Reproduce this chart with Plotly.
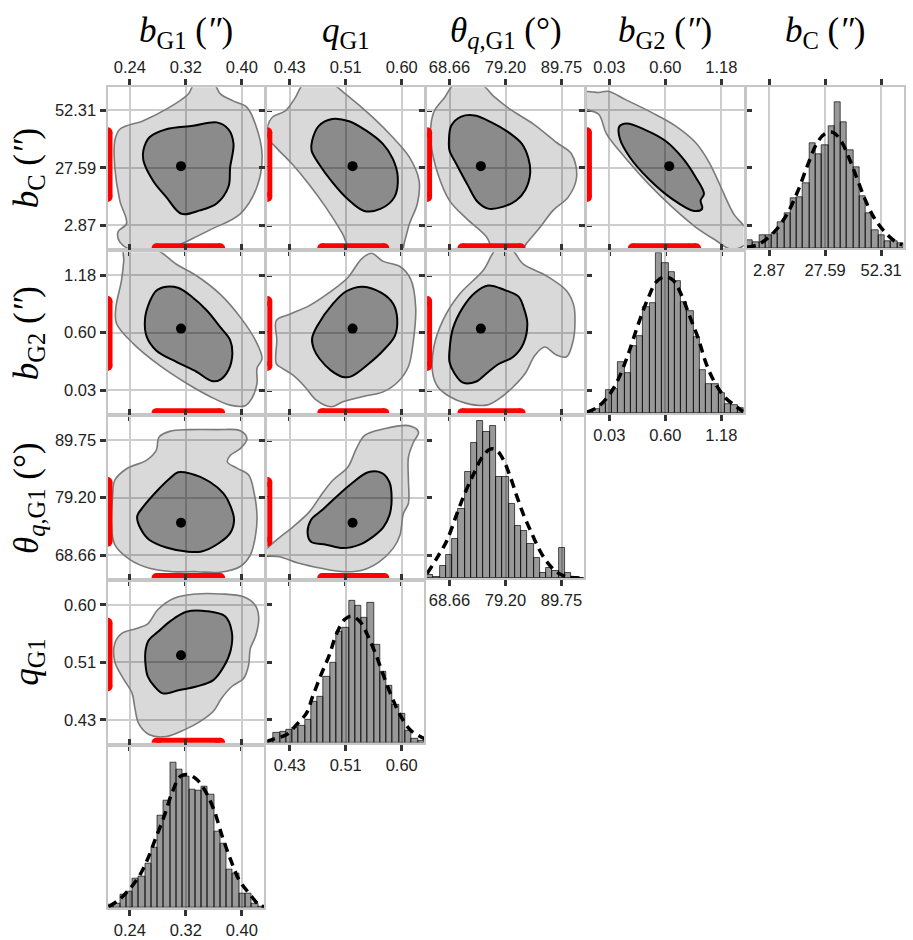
import plotly.graph_objects as go

# variables, in column order (rows run the other way: bC on top)
names = ["bG1", "qG1", "theta", "bG2", "bC"]
titles = ["<i>b</i><sub>G1</sub> (<i>″</i>)", "<i>q</i><sub>G1</sub>",
          "<i>θ</i><sub><i>q</i>,G1</sub> (°)", "<i>b</i><sub>G2</sub> (<i>″</i>)",
          "<i>b</i><sub>C</sub> (<i>″</i>)"]
tick_mid = [0.32, 0.5135, 79.203, 0.6045, 27.59]
tick_step = [0.08, 0.0855, 10.545, 0.5755, 24.72]
tick_text = [["0.24", "0.32", "0.40"], ["0.43", "0.51", "0.60"],
             ["68.66", "79.20", "89.75"], ["0.03", "0.60", "1.18"],
             ["2.87", "27.59", "52.31"]]
post_mean = [0.313, 0.524, 74.56, 0.645, 28.3]
band_lo = [0.278, 0.4776, 71.08, 0.271, 15.0]
band_hi = [0.369, 0.5725, 82.05, 0.921, 42.9]

# histogram counts, 25 bins over the plotted range
hist_bG1 = [8, 13, 38, 48, 88, 93, 133, 180, 275, 321, 433, 413, 391, 353, 350, 363, 338, 228, 193, 113, 103, 41, 41, 13, 3]
hist_qG1 = [6, 29, 34, 39, 44, 51, 69, 122, 139, 199, 241, 331, 344, 424, 411, 374, 419, 292, 214, 171, 114, 87, 37, 12, 6]
hist_theta = [10, 3, 36, 69, 116, 206, 316, 403, 469, 436, 456, 303, 303, 223, 156, 141, 103, 59, 16, 29, 21, 91, 16, 4, 0]
hist_bG2 = [5, 11, 26, 68, 73, 153, 120, 201, 230, 318, 330, 478, 448, 423, 396, 333, 306, 228, 130, 88, 88, 61, 26, 23, 15]
hist_bC = [23, 18, 38, 38, 45, 78, 105, 150, 152, 195, 313, 280, 308, 365, 438, 378, 292, 242, 155, 105, 55, 38, 20, 20, 15]

# gaussian fits: offsets in tick steps from the middle tick, height in counts
fit_bG1_u = [-1.38, -1.20, -1.02, -0.84, -0.69, -0.54, -0.39, -0.25, -0.10, 0.05, 0.20, 0.35, 0.50, 0.65, 0.80, 0.95, 1.13, 1.31, 1.42]
fit_bG1_h = [3, 23, 53, 93, 143, 208, 273, 343, 393, 398, 383, 348, 293, 213, 143, 83, 43, 8, 2]
fit_qG1_u = [-1.42, -1.24, -1.06, -0.88, -0.70, -0.59, -0.44, -0.29, -0.17, -0.02, 0.10, 0.25, 0.40, 0.55, 0.67, 0.82, 0.97, 1.15, 1.33, 1.42]
fit_qG1_h = [4, 14, 24, 54, 89, 139, 204, 264, 324, 369, 379, 364, 319, 259, 204, 139, 84, 39, 19, 12]
fit_theta_u = [-1.40, -1.22, -1.05, -0.87, -0.72, -0.57, -0.42, -0.27, -0.15, -0.03, 0.09, 0.21, 0.33, 0.45, 0.60, 0.75, 0.93, 1.11, 1.40]
fit_theta_h = [13, 61, 111, 191, 256, 311, 361, 386, 381, 351, 301, 241, 186, 141, 86, 46, 16, 3, 0]
fit_bG2_u = [-1.40, -1.21, -1.03, -0.85, -0.67, -0.49, -0.31, -0.16, -0.01, 0.14, 0.29, 0.44, 0.59, 0.73, 0.88, 1.06, 1.24, 1.39]
fit_bG2_h = [3, 18, 48, 98, 173, 263, 343, 393, 408, 398, 353, 288, 223, 148, 93, 48, 23, 5]
fit_bC_u = [-1.40, -1.21, -1.03, -0.85, -0.67, -0.49, -0.31, -0.16, -0.01, 0.14, 0.29, 0.44, 0.59, 0.73, 0.88, 1.06, 1.24, 1.38]
fit_bC_h = [3, 10, 30, 60, 105, 170, 250, 310, 342, 347, 320, 265, 200, 140, 90, 50, 22, 10]

# 68% / 95% contours, (x, y) in tick steps from the middle ticks
outer_bG1_bC = [(0.04, 1.28), (0.15, 1.45), (0.50, 1.45), (0.62, 1.28), (0.85, 1.16), (1.09, 1.05), (1.24, 0.76), (1.36, 0.24), (1.27, -0.33), (0.97, -0.80), (0.43, -1.08), (-0.11, -1.34), (-0.35, -1.46), (-0.88, -1.46), (-1.18, -1.29), (-1.21, -1.11), (-1.06, -0.97), (-1.18, -0.57), (-1.27, 0.01), (-1.27, 0.47), (-1.18, 0.67), (-0.76, 0.82), (-0.35, 1.02)]
inner_bG1_bC = [(-0.76, 0.30), (-0.65, 0.53), (-0.35, 0.67), (0.13, 0.73), (0.55, 0.79), (0.76, 0.67), (0.85, 0.42), (0.79, 0.01), (0.76, -0.33), (0.55, -0.62), (0.25, -0.74), (-0.08, -0.80), (-0.35, -0.51), (-0.59, -0.22), (-0.76, 0.13)]
outer_qG1_bC = [(-1.40, 0.70), (-1.31, 0.88), (-1.08, 0.99), (-0.90, 1.22), (-0.75, 1.45), (-0.24, 1.45), (0.0, 1.28), (0.48, 0.88), (0.84, 0.53), (1.14, 0.18), (1.31, -0.22), (1.28, -0.62), (1.14, -0.97), (1.05, -1.29), (0.99, -1.46), (0.12, -1.46), (-0.06, -1.14), (-0.36, -0.68), (-0.66, -0.28), (-0.96, 0.07), (-1.25, 0.36), (-1.40, 0.53)]
inner_qG1_bC = [(-0.60, 0.47), (-0.48, 0.73), (-0.24, 0.85), (0.06, 0.81), (0.36, 0.65), (0.66, 0.42), (0.84, 0.16), (0.93, -0.16), (0.87, -0.51), (0.63, -0.71), (0.33, -0.75), (0.03, -0.54), (-0.24, -0.25), (-0.48, 0.07), (-0.61, 0.30)]
outer_theta_bC = [(-1.33, 0.76), (-1.27, 0.99), (-1.09, 1.22), (-0.91, 1.45), (-0.43, 1.45), (-0.22, 1.25), (0.08, 1.02), (0.50, 0.76), (0.91, 0.44), (1.18, 0.24), (1.27, -0.16), (1.12, -0.51), (0.85, -0.74), (0.62, -1.03), (0.38, -1.31), (0.26, -1.46), (-0.19, -1.46), (-0.34, -1.20), (-0.70, -0.88), (-1.00, -0.57), (-1.21, -0.10), (-1.33, 0.42)]
inner_theta_bC = [(-1.01, 0.47), (-0.97, 0.73), (-0.79, 0.89), (-0.55, 0.91), (-0.25, 0.79), (0.05, 0.62), (0.29, 0.42), (0.41, 0.16), (0.44, -0.10), (0.35, -0.39), (0.19, -0.57), (-0.05, -0.68), (-0.31, -0.71), (-0.50, -0.59), (-0.67, -0.31), (-0.88, 0.07), (-1.00, 0.30)]
outer_bG2_bC = [(-1.45, 1.31), (-1.19, 1.31), (-1.02, 1.33), (-0.72, 1.19), (-0.24, 0.96), (0.18, 0.73), (0.54, 0.44), (0.78, 0.10), (0.99, -0.33), (1.22, -0.80), (1.45, -1.08), (1.45, -1.31), (1.19, -1.42), (0.90, -1.26), (0.54, -1.03), (0.12, -0.68), (-0.30, -0.28), (-0.72, 0.18), (-1.05, 0.59), (-1.19, 0.93), (-1.45, 1.05)]
inner_bG2_bC = [(-0.82, 0.72), (-0.69, 0.77), (-0.36, 0.66), (0.0, 0.47), (0.30, 0.18), (0.54, -0.16), (0.69, -0.45), (0.63, -0.57), (0.66, -0.71), (0.51, -0.75), (0.12, -0.54), (-0.30, -0.19), (-0.63, 0.18), (-0.81, 0.50)]
outer_bG1_bG2 = [(-1.10, 1.45), (-0.55, 1.45), (-0.17, 1.19), (0.19, 0.99), (0.61, 0.67), (0.97, 0.27), (1.24, -0.13), (1.36, -0.45), (1.27, -0.62), (1.27, -0.88), (1.18, -1.14), (1.06, -1.27), (0.79, -1.26), (0.43, -1.11), (0.01, -0.88), (-0.47, -0.57), (-0.94, -0.19), (-1.24, 0.16), (-1.25, 0.44), (-1.15, 0.91), (-1.11, 1.25)]
inner_bG1_bG2 = [(-0.73, 0.24), (-0.65, 0.53), (-0.53, 0.73), (-0.35, 0.80), (-0.14, 0.78), (0.10, 0.63), (0.37, 0.39), (0.61, 0.10), (0.79, -0.13), (0.83, -0.36), (0.76, -0.65), (0.61, -0.82), (0.46, -0.84), (0.19, -0.68), (-0.17, -0.51), (-0.53, -0.31), (-0.70, -0.07)]
outer_qG1_bG2 = [(-1.24, 0.21), (-1.00, 0.32), (-0.65, 0.47), (-0.29, 0.70), (0.04, 0.96), (0.28, 1.28), (0.46, 1.38), (0.67, 1.24), (0.97, 1.15), (1.16, 0.93), (1.25, 0.44), (1.21, -0.13), (1.12, -0.59), (0.94, -0.85), (0.67, -1.03), (0.31, -1.11), (-0.05, -1.20), (-0.26, -1.29), (-0.53, -1.17), (-0.73, -0.94), (-0.94, -0.74), (-1.15, -0.61), (-1.24, -0.54), (-1.23, -0.13)]
inner_qG1_bG2 = [(-0.60, -0.10), (-0.50, 0.13), (-0.23, 0.50), (0.01, 0.72), (0.31, 0.80), (0.64, 0.69), (0.85, 0.50), (0.92, 0.24), (0.88, -0.05), (0.67, -0.31), (0.40, -0.55), (0.10, -0.76), (-0.05, -0.77), (-0.26, -0.66), (-0.47, -0.45), (-0.57, -0.28)]
outer_theta_bG2 = [(-1.30, -0.71), (-1.28, -0.25), (-1.12, 0.21), (-0.82, 0.67), (-0.40, 1.08), (-0.16, 1.45), (0.10, 1.45), (0.32, 1.19), (0.73, 0.99), (1.09, 0.73), (1.22, 0.47), (1.24, 0.16), (1.21, -0.13), (1.09, -0.42), (0.91, -0.39), (0.70, -0.25), (0.53, -0.39), (0.35, -0.71), (0.14, -0.94), (-0.10, -1.14), (-0.34, -1.26), (-0.70, -1.23), (-1.00, -1.11), (-1.21, -0.94)]
inner_theta_bG2 = [(-1.00, -0.31), (-0.94, 0.07), (-0.76, 0.44), (-0.55, 0.69), (-0.31, 0.82), (-0.01, 0.74), (0.23, 0.63), (0.33, 0.42), (0.39, 0.16), (0.32, -0.19), (0.14, -0.42), (-0.13, -0.55), (-0.34, -0.71), (-0.52, -0.85), (-0.76, -0.87), (-0.91, -0.71), (-1.00, -0.51)]
outer_bG1_theta = [(-1.27, 0.30), (-1.06, 0.50), (-0.70, 0.65), (-0.53, 0.82), (-0.48, 1.05), (-0.29, 1.15), (0.07, 1.18), (0.55, 1.18), (0.97, 1.16), (1.09, 1.02), (0.97, 0.85), (0.79, 0.73), (0.74, 0.62), (0.91, 0.51), (1.12, 0.39), (1.22, 0.07), (1.27, -0.33), (1.24, -0.68), (1.15, -1.00), (0.97, -1.20), (0.61, -1.30), (0.19, -1.29), (-0.23, -1.29), (-0.65, -1.23), (-1.00, -1.08), (-1.27, -0.82), (-1.33, -0.45), (-1.31, 0.01)]
inner_bG1_theta = [(-0.87, -0.33), (-0.76, -0.16), (-0.53, 0.10), (-0.29, 0.33), (-0.14, 0.44), (0.07, 0.42), (0.43, 0.27), (0.67, 0.07), (0.80, -0.16), (0.86, -0.39), (0.79, -0.62), (0.58, -0.80), (0.28, -0.94), (0.01, -0.94), (-0.35, -0.87), (-0.65, -0.74), (-0.81, -0.54)]
outer_qG1_theta = [(-1.45, -0.94), (-1.24, -0.74), (-0.94, -0.51), (-0.65, -0.25), (-0.44, 0.04), (-0.23, 0.30), (0.04, 0.53), (0.19, 0.85), (0.34, 1.08), (0.67, 1.19), (1.12, 1.25), (1.30, 1.14), (1.21, 0.96), (1.12, 0.70), (1.12, 0.30), (1.12, -0.10), (1.03, -0.28), (0.97, -0.65), (0.85, -0.88), (0.61, -1.11), (0.31, -1.26), (-0.02, -1.29), (-0.44, -1.23), (-0.85, -1.14), (-1.18, -1.03), (-1.45, -1.00)]
inner_qG1_theta = [(-0.68, -0.62), (-0.62, -0.39), (-0.41, -0.21), (-0.17, 0.01), (0.10, 0.24), (0.40, 0.44), (0.64, 0.43), (0.78, 0.27), (0.82, -0.05), (0.78, -0.31), (0.67, -0.52), (0.49, -0.68), (0.25, -0.82), (-0.05, -0.88), (-0.35, -0.82), (-0.62, -0.77)]
outer_bG1_qG1 = [(-1.27, 0.33), (-1.15, 0.50), (-0.88, 0.59), (-0.68, 0.67), (-0.50, 0.92), (-0.20, 1.12), (0.19, 1.19), (0.61, 1.19), (1.03, 1.14), (1.24, 0.99), (1.30, 0.79), (1.25, 0.47), (1.15, 0.24), (1.12, -0.05), (1.03, -0.28), (0.82, -0.42), (0.64, -0.62), (0.49, -0.85), (0.25, -1.03), (-0.02, -1.17), (-0.35, -1.29), (-0.65, -1.26), (-0.84, -1.07), (-0.91, -0.80), (-0.96, -0.54), (-1.12, -0.28), (-1.27, 0.01)]
inner_bG1_qG1 = [(-0.72, 0.21), (-0.66, 0.39), (-0.50, 0.53), (-0.26, 0.73), (0.01, 0.88), (0.37, 0.89), (0.70, 0.80), (0.82, 0.53), (0.80, 0.21), (0.68, -0.07), (0.49, -0.31), (0.19, -0.42), (-0.11, -0.48), (-0.41, -0.54), (-0.56, -0.42), (-0.68, -0.25), (-0.72, -0.05)]

contours = {
    ("bG1", "bC"): (outer_bG1_bC, inner_bG1_bC),
    ("qG1", "bC"): (outer_qG1_bC, inner_qG1_bC),
    ("theta", "bC"): (outer_theta_bC, inner_theta_bC),
    ("bG2", "bC"): (outer_bG2_bC, inner_bG2_bC),
    ("bG1", "bG2"): (outer_bG1_bG2, inner_bG1_bG2),
    ("qG1", "bG2"): (outer_qG1_bG2, inner_qG1_bG2),
    ("theta", "bG2"): (outer_theta_bG2, inner_theta_bG2),
    ("bG1", "theta"): (outer_bG1_theta, inner_bG1_theta),
    ("qG1", "theta"): (outer_qG1_theta, inner_qG1_theta),
    ("bG1", "qG1"): (outer_bG1_qG1, inner_bG1_qG1),
}
hists = {"bG1": (hist_bG1, fit_bG1_u, fit_bG1_h), "qG1": (hist_qG1, fit_qG1_u, fit_qG1_h),
         "theta": (hist_theta, fit_theta_u, fit_theta_h), "bG2": (hist_bG2, fit_bG2_u, fit_bG2_h),
         "bC": (hist_bC, fit_bC_u, fit_bC_h)}

W, H = 913, 940
SPAN = 1.40           # half range of each axis, in tick steps
COL0, COLP, PW = 107.5, 159.8, 156.8
ROW0, ROWP, PH = 87.3, 164.85, 161
HIST_TOP = 482
GRID = "#cdcdcd"
FRAME = "#c6c6c6"
TICKFONT = dict(family="Liberation Sans, Arial", size=16.5, color="#222")
BAND = dict(color="red", width=10)


def axis_range(i):
    return [tick_mid[i] - SPAN * tick_step[i], tick_mid[i] + SPAN * tick_step[i]]


def ticks(i):
    return [tick_mid[i] - tick_step[i], tick_mid[i], tick_mid[i] + tick_step[i]]


def to_data(pts, ix, iy):
    xs = [tick_mid[ix] + tick_step[ix] * u for u, v in pts]
    ys = [tick_mid[iy] + tick_step[iy] * v for u, v in pts]
    return xs + xs[:1], ys + ys[:1]


fig = go.Figure()
layout = {}
k = 0
for r in range(5):
    for c in range(5 - r):
        k += 1
        ix, iy = c, 4 - r
        diag = (r + c == 4)
        xa, ya = "x%d" % k, "y%d" % k
        left = COL0 + c * COLP
        top = ROW0 + r * ROWP
        xdom = [left / W, (left + PW) / W]
        ydom = [1 - (top + PH) / H, 1 - top / H]
        xr = axis_range(ix)

        layout["xaxis%d" % k] = dict(
            domain=xdom, anchor=ya, range=xr, tickvals=ticks(ix), ticktext=tick_text[ix],
            showgrid=True, gridcolor=GRID, gridwidth=1.5, zeroline=False,
            showline=True, linecolor=FRAME, linewidth=2, mirror="ticks",
            ticks="outside", ticklen=6, tickwidth=3, tickcolor="#333",
            side="top" if (r == 0 and not diag) else "bottom",
            showticklabels=(r == 0) or diag, tickfont=TICKFONT, fixedrange=True)

        if diag:
            counts, fu, fh = hists[names[ix]]
            nb = len(counts)
            bw = (xr[1] - xr[0]) / nb
            centres = [xr[0] + (j + 0.5) * bw for j in range(nb)]
            layout["yaxis%d" % k] = dict(
                domain=ydom, anchor=xa, range=[0, HIST_TOP], showgrid=False, zeroline=False,
                showline=True, linecolor=FRAME, linewidth=2, mirror=True,
                ticks="", showticklabels=False, fixedrange=True)
            fig.add_trace(go.Bar(x=centres, y=counts, width=bw, xaxis=xa, yaxis=ya,
                                 marker=dict(color="rgba(0,0,0,0.40)",
                                             line=dict(color="rgba(0,0,0,0.66)", width=1))))
            fig.add_trace(go.Scatter(x=[tick_mid[ix] + tick_step[ix] * u for u in fu], y=fh,
                                     xaxis=xa, yaxis=ya, mode="lines",
                                     line=dict(color="black", width=3.5, dash="9px,6px", shape="spline")))
            continue

        yr = axis_range(iy)
        layout["yaxis%d" % k] = dict(
            domain=ydom, anchor=xa, range=yr, tickvals=ticks(iy), ticktext=tick_text[iy],
            showgrid=True, gridcolor=GRID, gridwidth=1.5, zeroline=False,
            showline=True, linecolor=FRAME, linewidth=2, mirror="ticks",
            ticks="outside", ticklen=6, tickwidth=3, tickcolor="#333",
            showticklabels=(c == 0), tickfont=TICKFONT, fixedrange=True)

        outer, inner = contours[(names[ix], names[iy])]
        ox, oy = to_data(outer, ix, iy)
        fig.add_trace(go.Scatter(x=ox, y=oy, xaxis=xa, yaxis=ya, mode="lines", fill="toself",
                                 fillcolor="rgba(0,0,0,0.15)",
                                 line=dict(color="#7a7a7a", width=1.6, shape="spline", smoothing=1)))
        nx, ny = to_data(inner, ix, iy)
        fig.add_trace(go.Scatter(x=nx, y=ny, xaxis=xa, yaxis=ya, mode="lines", fill="toself",
                                 fillcolor="rgba(0,0,0,0.36)",
                                 line=dict(color="black", width=2, shape="spline", smoothing=1)))
        # interval bars along the bottom and left frame, with round ends
        fig.add_trace(go.Scatter(x=[band_lo[ix], band_hi[ix]], y=[yr[0], yr[0]], xaxis=xa, yaxis=ya,
                                 mode="lines+markers", line=BAND,
                                 marker=dict(color="red", size=10)))
        fig.add_trace(go.Scatter(x=[xr[0], xr[0]], y=[band_lo[iy], band_hi[iy]], xaxis=xa, yaxis=ya,
                                 mode="lines+markers", line=BAND,
                                 marker=dict(color="red", size=10)))
        fig.add_trace(go.Scatter(x=[post_mean[ix]], y=[post_mean[iy]], xaxis=xa, yaxis=ya,
                                 mode="markers", marker=dict(color="black", size=10)))

annotations = []
TITLEFONT = dict(family="Liberation Serif, DejaVu Serif", size=35, color="black")
for c in range(5):
    annotations.append(dict(text=titles[c], xref="paper", yref="paper",
                            x=(COL0 + c * COLP + PW / 2) / W, y=1 - 56 / H,
                            xanchor="center", yanchor="bottom", showarrow=False, font=TITLEFONT))
for r in range(4):
    annotations.append(dict(text=titles[4 - r], xref="paper", yref="paper",
                            x=52 / W, y=1 - (ROW0 + r * ROWP + PH / 2) / H, textangle=-90,
                            xanchor="right", yanchor="middle", showarrow=False, font=TITLEFONT))

fig.update_layout(**layout)
fig.update_layout(width=W, height=H, margin=dict(l=0, r=0, t=0, b=0),
                  paper_bgcolor="white", plot_bgcolor="white", showlegend=False,
                  hovermode=False, bargap=0, annotations=annotations)

fig.write_html("out.html", config={"displayModeBar": False},
               post_script="document.body.style.margin='0';")
